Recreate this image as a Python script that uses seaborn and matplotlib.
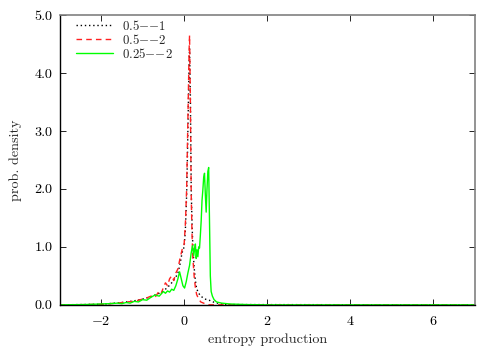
import numpy as np
import pandas as pd
import matplotlib
matplotlib.use("Agg")
import matplotlib.pyplot as plt
import seaborn as sns

# entropy production distributions
x_a = [-3.0, -2.5, -2.0, -1.5, -1.2, -1.0, -0.8, -0.6, -0.5, -0.4, -0.3, -0.2, -0.15, -0.1,
       -0.05, 0.0, 0.03, 0.06, 0.08, 0.1, 0.12, 0.13, 0.15, 0.17, 0.19, 0.21, 0.24, 0.27,
       0.3, 0.35, 0.4, 0.5, 0.6, 0.7, 0.8, 0.9, 1.0, 7.0]
y_a = [0.0, 0.005, 0.01, 0.04, 0.07, 0.1, 0.14, 0.2, 0.24, 0.3, 0.38, 0.48, 0.55, 0.7,
       0.9, 1.0, 1.3, 1.9, 2.6, 3.4, 4.2, 4.42, 3.6, 2.0, 1.4, 1.0, 0.65, 0.42,
       0.28, 0.2, 0.15, 0.1, 0.08, 0.05, 0.03, 0.015, 0.005, 0.0]

x_b = [-3.0, -2.5, -2.0, -1.6, -1.4, -1.2, -1.0, -0.9, -0.8, -0.7, -0.6, -0.55, -0.5, -0.45,
       -0.4, -0.35, -0.3, -0.25, -0.2, -0.15, -0.1, -0.05, 0.0, 0.03, 0.06, 0.08, 0.1, 0.12,
       0.13, 0.15, 0.17, 0.19, 0.21, 0.24, 0.27, 0.3, 0.35, 0.4, 0.5, 0.6, 7.0]
y_b = [0.0, 0.003, 0.01, 0.03, 0.05, 0.06, 0.1, 0.12, 0.15, 0.13, 0.24, 0.2, 0.3, 0.38,
       0.33, 0.45, 0.5, 0.42, 0.55, 0.62, 0.8, 0.95, 1.05, 1.4, 2.0, 2.8, 3.6, 4.4,
       4.65, 3.5, 1.9, 1.2, 0.8, 0.5, 0.3, 0.18, 0.1, 0.05, 0.02, 0.0, 0.0]

x_c = [-3.0, -2.4, -2.0, -1.8, -1.6, -1.5, -1.4, -1.3, -1.2, -1.1, -1.0, -0.9, -0.8, -0.7,
       -0.6, -0.5, -0.45, -0.4, -0.35, -0.3, -0.25, -0.2, -0.15, -0.11, -0.07, -0.03, 0.01,
       0.05, 0.09, 0.13, 0.17, 0.2, 0.23, 0.25, 0.27, 0.29, 0.31, 0.33, 0.35, 0.37, 0.39,
       0.41, 0.43, 0.45, 0.47, 0.49, 0.51, 0.53, 0.55, 0.57, 0.59, 0.61, 0.63, 0.65, 0.68,
       0.72, 0.78, 0.9, 1.1, 1.5, 2.0, 7.0]
y_c = [0.0, 0.005, 0.015, 0.02, 0.03, 0.02, 0.04, 0.03, 0.06, 0.05, 0.09, 0.08, 0.13, 0.17,
       0.15, 0.23, 0.2, 0.24, 0.22, 0.27, 0.25, 0.33, 0.45, 0.57, 0.45, 0.33, 0.29,
       0.4, 0.55, 0.68, 0.9, 1.02, 0.85, 0.95, 1.05, 0.8, 0.95, 0.83, 1.0, 0.98, 1.2,
       1.45, 1.8, 1.98, 2.2, 2.27, 1.9, 1.6, 2.0, 2.3, 2.37, 1.45, 0.5, 0.23, 0.15,
       0.09, 0.05, 0.03, 0.015, 0.005, 0.0, 0.0]

labels = [r"$0.5{-}{-}1$", r"$0.5{-}{-}2$", r"$0.25{-}{-}2$"]
x_ticks = [-2, 0, 2, 4, 6]
y_ticks = [0.0, 1.0, 2.0, 3.0, 4.0, 5.0]

sns.set_style("ticks")
plt.rcParams["font.family"] = ["cmr10", "DejaVu Serif"]
plt.rcParams["axes.formatter.use_mathtext"] = True
plt.rcParams["mathtext.fontset"] = "cm"

fig = plt.figure(figsize=(5, 3.5), dpi=100)
ax = fig.add_axes([0.119, 0.129, 0.831, 0.828])

sns.lineplot(x=x_a, y=y_a, ax=ax, color="black", linestyle=(0, (1, 2)), linewidth=1.0,
             label=labels[0], estimator=None)
sns.lineplot(x=x_b, y=y_b, ax=ax, color="#ff2020", linestyle=(0, (4, 3)), linewidth=1.0,
             label=labels[1], estimator=None)
sns.lineplot(x=x_c, y=y_c, ax=ax, color="#00ff00", linestyle="-", linewidth=1.0,
             label=labels[2], estimator=None)

ax.set_xlim(-3, 7)
ax.set_ylim(0, 5)
ax.set_xticks(x_ticks)
ax.set_yticks(y_ticks)
ax.set_yticklabels([f"{v:.1f}" for v in y_ticks])
ax.tick_params(direction="in", length=4, width=0.6, top=True, right=True, labelsize=10.2, colors="black")
ax.tick_params(axis="x", pad=7)
ax.tick_params(axis="y", pad=5)

for side in ["top", "right"]:
    ax.spines[side].set_color("#808080")
    ax.spines[side].set_linewidth(1.2)
for side in ["left", "bottom"]:
    ax.spines[side].set_color("black")
    ax.spines[side].set_linewidth(1.0)

ax.set_xlabel("entropy production", fontsize=10.2, labelpad=4)
ax.set_ylabel("prob. density", fontsize=10.2, labelpad=9)

ax.legend(loc="upper left", bbox_to_anchor=(0.03, 1.0), frameon=False, fontsize=9.3,
          handlelength=2.9, handletextpad=0.7, borderaxespad=0.0, borderpad=0.3,
          labelspacing=0.0)

fig.savefig("out.png", dpi=100)
